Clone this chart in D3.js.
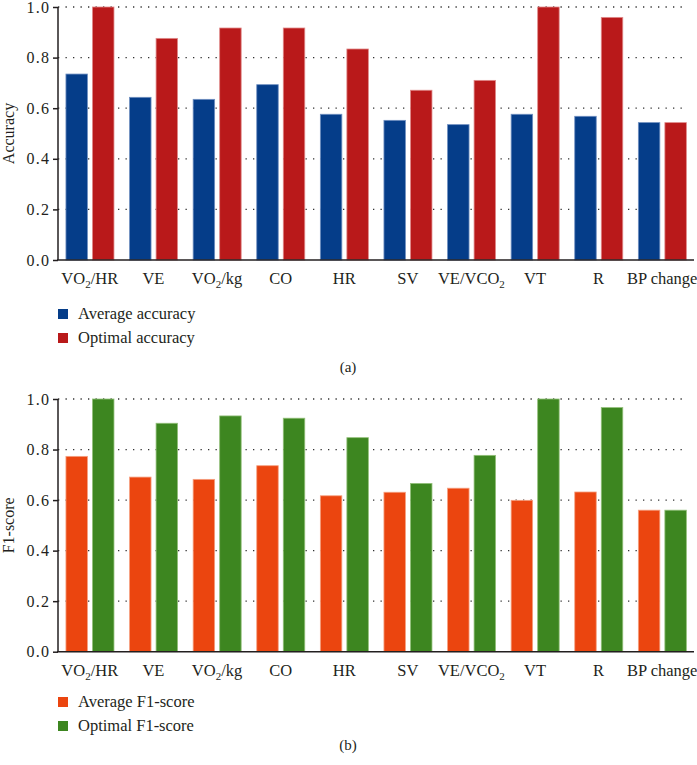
<!DOCTYPE html>
<html><head><meta charset="utf-8">
<script src="https://cdn.jsdelivr.net/npm/d3@7/dist/d3.min.js"></script>
<style>body{margin:0;background:#fff}svg{display:block}text{font-family:"Liberation Serif","Times New Roman",serif;fill:#231f20}</style>
</head><body>
<svg id="c" width="697" height="765"></svg>
<script>
const categories = [["VO","2","/HR"],["VE"],["VO","2","/kg"],["CO"],["HR"],["SV"],["VE/VCO","2"],["VT"],["R"],["BP change"]];
const catKeys = categories.map(c=>c.join(""));
const avgAccuracy = [0.735,0.643,0.635,0.693,0.576,0.552,0.535,0.576,0.568,0.543];
const optAccuracy = [1.0,0.876,0.917,0.917,0.834,0.671,0.710,1.0,0.959,0.543];
const avgF1 = [0.773,0.691,0.682,0.736,0.617,0.631,0.647,0.599,0.632,0.560];
const optF1 = [1.0,0.904,0.933,0.924,0.847,0.666,0.777,1.0,0.966,0.560];
const yTicks = [0,0.2,0.4,0.6,0.8,1.0];

const svg = d3.select("#c");
const SERIF = '"Liberation Serif","Times New Roman",serif';

function panel(cfg){
  const g = svg.append("g");
  const x0 = d3.scaleBand().domain(catKeys).range([58,694]);
  const bw = x0.bandwidth();
  const x1 = d3.scaleBand().domain([0,1]).range([bw*0.125, bw*0.88]).paddingInner(0.19);
  const y = d3.scaleLinear().domain([0,1]).range([cfg.y0, cfg.y1]);
  // grid
  g.append("g").selectAll("line").data(yTicks.filter(t=>t>0)).join("line")
    .attr("x1",58).attr("x2",688).attr("y1",d=>y(d)).attr("y2",d=>y(d))
    .attr("stroke","#333").attr("stroke-width",1.3).attr("stroke-dasharray","1.3,6.2");
  // bars
  const series = [cfg.a, cfg.b];
  const cols = [cfg.ca, cfg.cb];
  const strokes = [cfg.sa, cfg.sb];
  series.forEach((vals,si)=>{
    g.append("g").selectAll("rect").data(vals).join("rect")
      .attr("x",(d,i)=>x0(catKeys[i])+x1(si)).attr("width",x1.bandwidth())
      .attr("y",d=>y(d)).attr("height",d=>y(0)-y(d))
      .attr("fill",cols[si]).attr("stroke",strokes[si]).attr("stroke-width",0.8);
  });
  // y axis
  const ya = d3.axisLeft(y).tickValues(yTicks).tickFormat(d3.format(".1f")).tickSize(5).tickPadding(4);
  const yg = g.append("g").attr("transform","translate(58,0)").call(ya)
    .attr("font-family",SERIF).attr("font-size",16);
  yg.select(".domain").attr("stroke","#231f20").attr("stroke-width",1.5).attr("d",`M0,${y(1)}V${y(0)}`);
  yg.selectAll(".tick line").attr("stroke","#231f20").attr("stroke-width",1.5);
  yg.selectAll(".tick text").attr("fill","#231f20").style("letter-spacing","1.3px").attr("dx","1.3");
  // x axis baseline
  g.append("line").attr("x1",57).attr("x2",694).attr("y1",y(0)).attr("y2",y(0)).attr("stroke","#231f20").attr("stroke-width",1.5);
  // x labels
  categories.forEach((parts,i)=>{
    const t = g.append("text").attr("x",x0(catKeys[i])+bw/2).attr("y",y(0)+24)
      .attr("text-anchor","middle").attr("font-size",16.5);
    parts.forEach((p,j)=>{
      const ts = t.append("tspan").text(p);
      if(p==="2"){ ts.attr("font-size",11).attr("dy",4); }
      else if(j>0 && parts[j-1]==="2"){ ts.attr("dy",-4); }
    });
  });
  // y label
  g.append("text").attr("transform",`translate(14,${(y(0)+y(1))/2}) rotate(-90)`)
    .attr("text-anchor","middle").attr("font-size",16).text(cfg.ylabel);
  // legend
  const lg = g.append("g").attr("transform",`translate(58,${cfg.legY})`);
  cfg.legend.forEach((lab,i)=>{
    lg.append("rect").attr("x",0).attr("y",i*24).attr("width",10).attr("height",10).attr("fill",cols[i]);
    lg.append("text").attr("x",20).attr("y",i*24+9.5).attr("font-size",16.5).text(lab);
  });
  g.append("text").attr("x",348).attr("y",cfg.capY).attr("text-anchor","middle").attr("font-size",15).text(cfg.cap);
}

panel({y0:260,y1:7,a:avgAccuracy,b:optAccuracy,ca:"#053d89",cb:"#b9191a",sa:"#6f8fc0",sb:"#e08a8a",
  ylabel:"Accuracy",legend:["Average accuracy","Optimal accuracy"],legY:309,cap:"(a)",capY:372});
panel({y0:651.7,y1:399,a:avgF1,b:optF1,ca:"#eb450f",cb:"#3d8620",sa:"#f5a080",sb:"#93c07a",
  ylabel:"F1-score",legend:["Average F1-score","Optimal F1-score"],legY:697,cap:"(b)",capY:750});
</script>
</body></html>
